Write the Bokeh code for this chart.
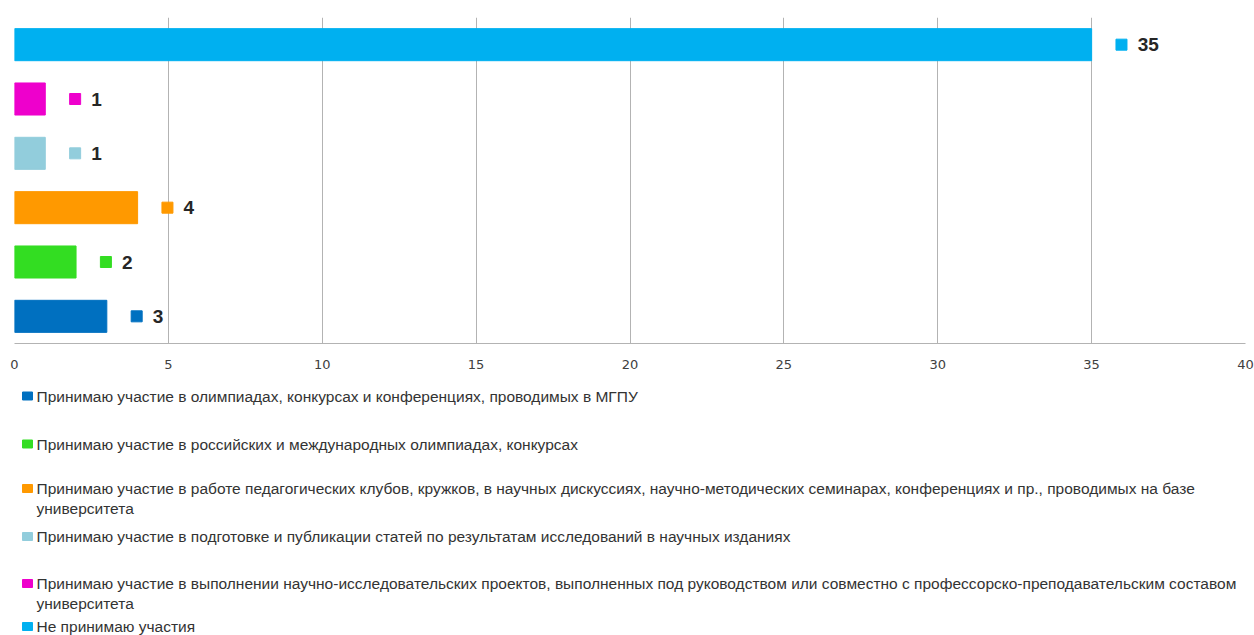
from bokeh.plotting import figure
from bokeh.models import Range1d, ColumnDataSource, FixedTicker
from bokeh.layouts import column
from bokeh.transform import dodge
from bokeh.core.properties import value
from bokeh.embed import file_html
from bokeh.resources import INLINE

# ---- data ----
categories = [
    "Принимаю участие в олимпиадах, конкурсах и конференциях, проводимых в МГПУ",
    "Принимаю участие в российских и международных олимпиадах, конкурсах",
    "Принимаю участие в работе педагогических клубов, кружков,  в научных дискуссиях, научно-методических семинарах, конференциях  и пр., проводимых на базе\nуниверситета",
    "Принимаю участие в подготовке и публикации статей по результатам  исследований в научных изданиях",
    "Принимаю участие в выполнении научно-исследовательских проектов, выполненных  под руководством или совместно с профессорско-преподавательским составом\nуниверситета",
    "Не принимаю участия",
]
counts = [3, 2, 4, 1, 1, 35]
colors = ["#0070C0", "#33DD22", "#FF9900", "#92CDDC", "#EE00CC", "#00B0F0"]
x_ticks = [0, 5, 10, 15, 20, 25, 30, 35, 40]

# ---- style / layout ----
GRID = "#B3B3B3"
NARROW = "'Liberation Sans Narrow', 'Liberation Sans', Arial, sans-serif"
LEFT, FW, RIGHT = 14, 1231, 9

src = ColumnDataSource(dict(
    y=[i + 0.5 for i in range(len(counts))],
    v=counts,
    color=colors,
    label=[str(c) for c in counts],
))

p = figure(
    frame_width=FW, frame_height=326,
    x_range=Range1d(0, 40), y_range=Range1d(0, 6),
    min_border_left=LEFT, min_border_right=RIGHT, min_border_top=17, min_border_bottom=37,
    y_axis_location=None,
    output_backend="svg", toolbar_location=None,
)
p.outline_line_color = None
p.background_fill_color = "white"
p.border_fill_color = "white"
p.ygrid.grid_line_color = None
p.xgrid.ticker = FixedTicker(ticks=x_ticks)
p.xgrid.grid_line_color = GRID
p.xaxis.ticker = FixedTicker(ticks=x_ticks)
p.xaxis.axis_line_color = GRID
p.xaxis.major_tick_out = 0
p.xaxis.major_tick_in = 0
p.xaxis.minor_tick_out = 0
p.xaxis.minor_tick_in = 0
p.xaxis.major_label_standoff = 16
p.xaxis.major_label_text_font = "DejaVu Sans"
p.xaxis.major_label_text_font_size = "13px"
p.xaxis.major_label_text_color = "#404040"

p.hbar(y="y", left=0, right="v", height=0.59, color="color", source=src)
p.scatter(x=dodge("v", 0.97, range=p.x_range), y="y", marker="square", size=11,
          color="color", source=src)
p.text(x="v", y="y", text="label", x_offset=46, text_baseline="middle",
       text_align="left", text_font=value(NARROW), text_font_style="bold",
       text_font_size="19px", text_color="#262626", source=src)

# ---- legend below (data units = page pixels) ----
LH = 255
p2 = figure(
    frame_width=FW, frame_height=LH,
    x_range=Range1d(LEFT, LEFT + FW), y_range=Range1d(LH, 0),
    min_border_left=LEFT, min_border_right=RIGHT, min_border_top=0, min_border_bottom=0,
    x_axis_location=None, y_axis_location=None,
    output_backend="svg", toolbar_location=None,
)
p2.outline_line_color = None
p2.grid.grid_line_color = None
p2.background_fill_color = "white"
p2.border_fill_color = "white"

row_y = [15.5, 63.5, 108, 156, 203, 246]
line_gap = 20
tx, ty, tt = [], [], []
for cat, ry in zip(categories, row_y):
    for k, line in enumerate(cat.split("\n")):
        tx.append(36)
        ty.append(ry + k * line_gap)
        tt.append(line)
p2.rect(x=[27] * len(row_y), y=row_y, width=10, height=8, color=colors)
p2.text(x=tx, y=ty, text=tt, text_baseline="middle", text_align="left",
        text_font=value("Liberation Sans"), text_font_size="15.5px", text_color="#333333")

layout = column(p, p2, spacing=0)
open("out.html", "w").write(file_html(layout, INLINE))
